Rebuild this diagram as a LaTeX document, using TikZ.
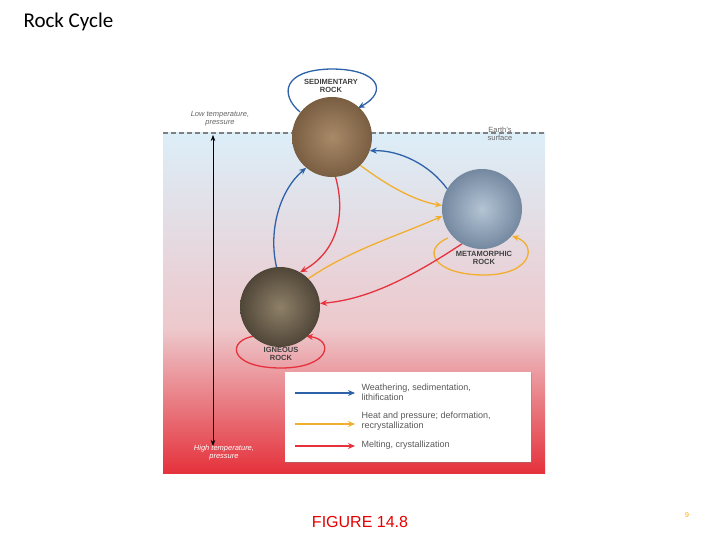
\documentclass[tikz,border=0pt]{standalone}
\usepackage{fontspec}
\setmainfont{Liberation Sans}
\newfontfamily\carlitofont{Carlito}
\usetikzlibrary{arrows.meta,shadows}
\definecolor{cblue}{HTML}{2E62A8}
\definecolor{corange}{HTML}{F2AE2E}
\definecolor{cred}{HTML}{E5323C}
\definecolor{skytop}{HTML}{DCEEF8}
\definecolor{midpink}{HTML}{EDC8CC}
\definecolor{sedin}{HTML}{A88A68}
\definecolor{sedout}{HTML}{7A5E42}
\definecolor{metin}{HTML}{B4C4D4}
\definecolor{metout}{HTML}{7488A0}
\definecolor{ignin}{HTML}{8E8068}
\definecolor{ignout}{HTML}{504638}
\begin{document}
\begin{tikzpicture}[x=1pt,y=-1pt,
  rock/.style={circle,minimum size=80pt,inner sep=0pt},
  lbl/.style={font=\fontsize{7.5}{8.5}\selectfont\bfseries,text=black!75,align=center},
  conn/.style={line width=1.3pt,-{Stealth[length=7pt,width=6pt]}},
  note/.style={font=\fontsize{9}{10}\selectfont,text=black!65,align=left,anchor=west},
  side/.style={font=\fontsize{7.5}{8}\selectfont\itshape,align=center}]
\useasboundingbox (0,0) rectangle (720,540);
\fill[white] (0,0) rectangle (720,540);
\node[anchor=west,font=\carlitofont\fontsize{21}{22}\selectfont] (title) at (20,22) {Rock Cycle};
% background panel
\shade[top color=skytop,bottom color=midpink] (163,133) rectangle (545,330);
\shade[top color=midpink,bottom color=cred] (163,329.5) rectangle (545,473);
\draw[gray,line width=1.5pt,dash pattern=on 5pt off 3pt] (163,133) -- (545,133);
\node[side,text=black!60] (low) at (220,119) {Low temperature,\\pressure};
\node[font=\fontsize{7.5}{8}\selectfont,text=black!60,align=center] (earth) at (500,134) {Earth's\\surface};
\node[side,text=white] (high) at (224,453) {High temperature,\\pressure};
\coordinate (vt) at (213,135);
\coordinate (vb) at (213,446);
\draw[line width=0.6pt,{Stealth[length=6pt]}-{Stealth[length=6pt]}] (vt) -- (vb);
% rock positions (loops drawn first, rocks on top)
\coordinate (sedc) at (332,137);
\coordinate (metc) at (482,209);
\coordinate (ignc) at (280,307);
\draw[cblue,conn] (300,112) .. controls (280,95) and (282,70) .. (331,69) .. controls (380,69) and (388,92) .. (358,108);
\draw[corange,conn] (448,238) .. controls (420,250) and (435,275) .. (484,275) .. controls (532,275) and (538,245) .. (512,236);
\draw[cred,conn] (255,336) .. controls (226,340) and (228,368) .. (281,368) .. controls (330,368) and (335,340) .. (306,336);
\node[rock,inner color=sedin,outer color=sedout] (sed) at (sedc) {};
\node[rock,inner color=metin,outer color=metout] (meta) at (metc) {};
\node[rock,inner color=ignin,outer color=ignout] (ign) at (ignc) {};
\node[lbl] (sedl) at (331,86) {SEDIMENTARY\\ROCK};
\node[lbl] (metal) at (484,258) {METAMORPHIC\\ROCK};
\node[lbl] (ignl) at (281,354) {IGNEOUS\\ROCK};
% cycle arrows
\draw[cblue,conn] (meta.150) .. controls (430,165) and (400,150) .. (sed.-20);
\draw[cblue,conn] (ign.95) .. controls (268,230) and (280,190) .. (sed.-130);
\draw[corange,conn] (sed.-45) .. controls (380,180) and (410,200) .. (meta.175);
\draw[corange,conn] (ign.45) .. controls (350,250) and (400,235) .. (meta.-170);
\draw[cred,conn] (sed.-85) .. controls (345,210) and (340,250) .. (ign.60);
\draw[cred,conn] (meta.-120) .. controls (400,285) and (360,300) .. (ign.5);
% legend
\node[fill=white,drop shadow={opacity=0.4,shadow xshift=1pt,shadow yshift=-1pt},minimum width=246pt,minimum height=90pt,inner sep=0pt] (leg) at (408,417) {};
\coordinate (b1) at (295,393); \coordinate (b2) at (355,393);
\coordinate (o1) at (295,424); \coordinate (o2) at (355,424);
\coordinate (r1) at (295,446); \coordinate (r2) at (355,446);
\draw[cblue,conn] (b1) -- (b2);
\draw[corange,conn] (o1) -- (o2);
\draw[cred,conn] (r1) -- (r2);
\node[note] (t1) at (358,392) {Weathering, sedimentation,\\lithification};
\node[note] (t2) at (358,421) {Heat and pressure; deformation,\\recrystallization};
\node[note] (t3) at (358,445) {Melting, crystallization};
\node[font=\fontsize{16}{17}\selectfont,text=red!90!black] (fig) at (360,522) {FIGURE 14.8};
\node[font=\fontsize{7}{8}\selectfont,text=orange!70!yellow] (pg) at (687,515) {9};
\end{tikzpicture}
\end{document}
